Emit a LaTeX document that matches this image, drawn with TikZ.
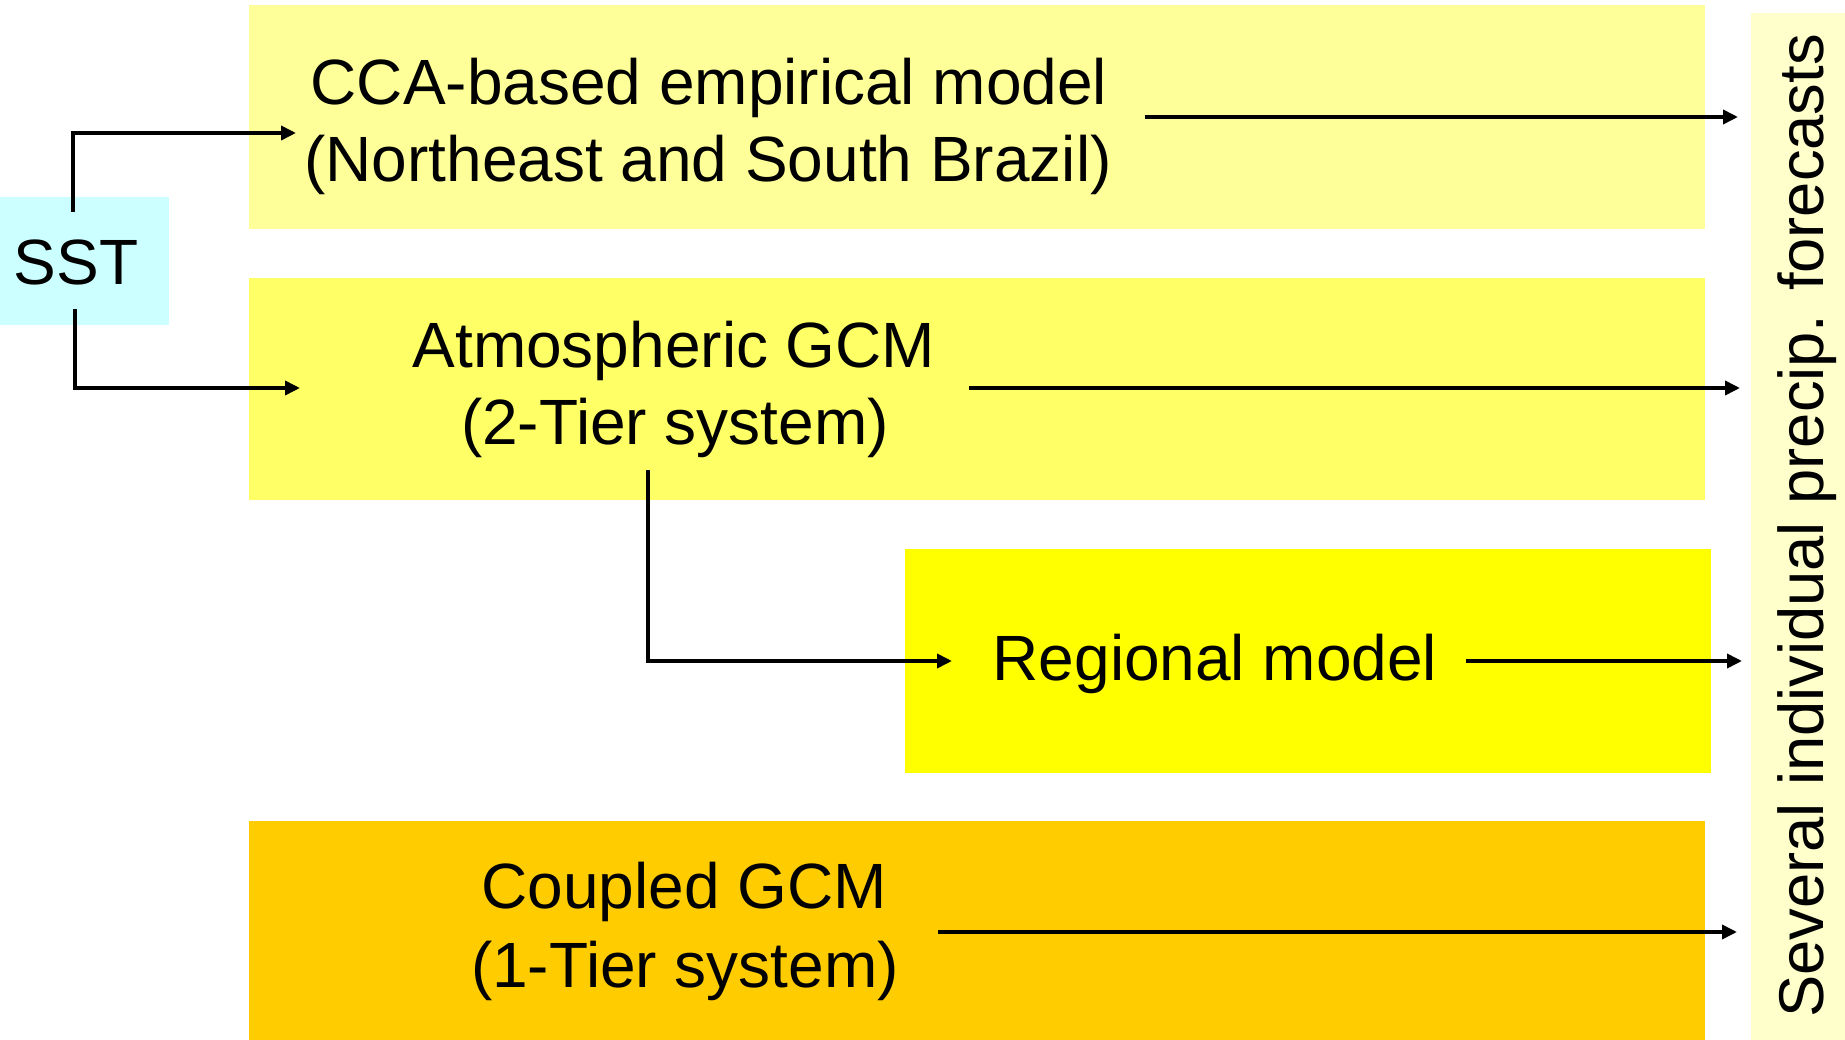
\documentclass[tikz,border=0pt]{standalone}
\usepackage{fontspec}
\setmainfont{Liberation Sans}
\usetikzlibrary{arrows.meta}
\definecolor{ccaC}{HTML}{FFFF99}
\definecolor{atmC}{HTML}{FFFF66}
\definecolor{regC}{HTML}{FFFF00}
\definecolor{cplC}{HTML}{FFCC00}
\definecolor{sstC}{HTML}{CCFFFF}
\definecolor{outC}{HTML}{FFFFCC}
\begin{document}
\begin{tikzpicture}[x=1pt,y=-1pt,
  box/.style={rectangle,anchor=north west,inner sep=0pt,outer sep=0pt,draw=none},
  lbl/.style={anchor=base,inner sep=0pt,font=\fontsize{64}{77}\selectfont},
  conn/.style={line width=3.6pt,-{Triangle[length=15pt,width=14pt]}}]
\useasboundingbox (0,0) rectangle (1845,1040);
\fill[white] (0,0) rectangle (1845,1040);
% boxes
\node[box,fill=ccaC,minimum width=1456pt,minimum height=224pt] (cca) at (249,5) {};
\node[box,fill=atmC,minimum width=1456pt,minimum height=222pt] (atm) at (249,278) {};
\node[box,fill=regC,minimum width=806pt,minimum height=224pt] (reg) at (905,549) {};
\node[box,fill=cplC,minimum width=1456pt,minimum height=219pt] (cpl) at (249,821) {};
\node[box,fill=sstC,minimum width=169pt,minimum height=128pt] (sst) at (0,197) {};
\node[box,fill=outC,minimum width=94pt,minimum height=1027pt] (out) at (1751,13) {};
% texts
\node[lbl] (sstT) at (76,285) {SST};
\node[lbl] (ccaT1) at (709,105) {CCA-based empirical model};
\node[lbl] (ccaT2) at (708,182) {(Northeast and South Brazil)};
\node[lbl] (atmT1) at (674,368) {Atmospheric GCM};
\node[lbl] (atmT2) at (675,445) {(2-Tier system)};
\node[lbl] (regT) at (1215,680) {Regional model};
\node[lbl] (cplT1) at (684,908) {Coupled GCM};
\node[lbl] (cplT2) at (685,987) {(1-Tier system)};
\node[lbl,rotate=90,font=\fontsize{63.3}{77}\selectfont] (outT) at (1823,526) {Several individual precip. forecasts};
% connector end points
\coordinate (s1a) at (73,212);
\coordinate (s1b) at (73,133);
\coordinate (s1c) at (296,133);
\coordinate (s2a) at (75,309);
\coordinate (s2b) at (75,388);
\coordinate (s2c) at (300,388);
\coordinate (c1a) at (1145,117);
\coordinate (c1b) at (1738,117);
\coordinate (a1a) at (969,388);
\coordinate (a1b) at (1740,388);
\coordinate (a2a) at (648,470);
\coordinate (a2b) at (648,661);
\coordinate (a2c) at (952,661);
\coordinate (r1a) at (1466,661);
\coordinate (r1b) at (1742,661);
\coordinate (p1a) at (938,932);
\coordinate (p1b) at (1737,932);
% connectors
\draw[conn] (s1a) -- (s1b) -- (s1c);
\draw[conn] (s2a) -- (s2b) -- (s2c);
\draw[conn] (c1a) -- (c1b);
\draw[conn] (a1a) -- (a1b);
\draw[conn] (a2a) -- (a2b) -- (a2c);
\draw[conn] (r1a) -- (r1b);
\draw[conn] (p1a) -- (p1b);
\end{tikzpicture}
\end{document}
